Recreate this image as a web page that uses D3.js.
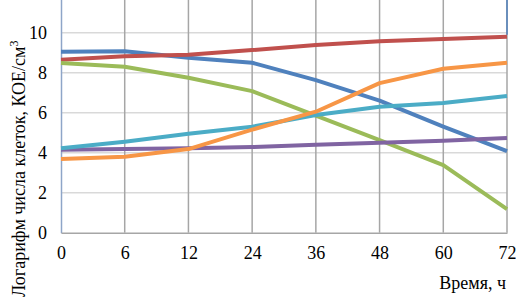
<!DOCTYPE html>
<html>
<head>
<meta charset="utf-8">
<script src="https://cdn.jsdelivr.net/npm/d3@7"></script>
<style>
    html, body {margin: 0; padding: 0; background: #fff;}
    svg {display: block;}
</style>
</head>
<body>
<svg id="chart" width="516" height="299"></svg>
<script>
const hours = ["0", "6", "12", "24", "36", "48", "60", "72"]
const yTicks = [0, 2, 4, 6, 8, 10]
const yMax = 12

const blueSeries = [9.05, 9.07, 8.75, 8.5, 7.63, 6.6, 5.3, 4.08]
const redSeries = [8.65, 8.82, 8.9, 9.13, 9.38, 9.57, 9.68, 9.8]
const greenSeries = [8.48, 8.3, 7.75, 7.08, 5.85, 4.63, 3.38, 1.18]
const purpleSeries = [4.15, 4.18, 4.22, 4.28, 4.4, 4.5, 4.6, 4.73]
const cyanSeries = [4.22, 4.55, 4.95, 5.3, 5.88, 6.3, 6.48, 6.83]
const orangeSeries = [3.68, 3.8, 4.18, 5.15, 6.05, 7.48, 8.2, 8.5]

// drawing order as in the source (later ones on top)
const series = [
    {values: blueSeries, color: "#4f81bd"},
    {values: redSeries, color: "#c0504d"},
    {values: greenSeries, color: "#9bbb59"},
    {values: purpleSeries, color: "#8064a2"},
    {values: cyanSeries, color: "#4bacc6"},
    {values: orangeSeries, color: "#f79646"},
]

const fontFam = "'Liberation Serif', 'Times New Roman', serif"

const svg = d3.select("#chart")

// plot top (value 12) sits just above the visible area
const x = d3.scalePoint().domain(hours).range([61, 507])
const y = d3.scaleLinear().domain([0, yMax]).range([232.7, -7.3])

// horizontal grid
svg.append("g")
    .selectAll("line")
    .data(yTicks.filter(d => d > 0))
    .join("line")
    .attr("x1", 61).attr("x2", 507)
    .attr("y1", d => y(d)).attr("y2", d => y(d))
    .attr("stroke", "#d9d9d9")
    .attr("stroke-width", 1.5)

// vertical grid
svg.append("g")
    .selectAll("line")
    .data(hours.slice(1))
    .join("line")
    .attr("x1", d => x(d)).attr("x2", d => x(d))
    .attr("y1", y(yMax)).attr("y2", y(0))
    .attr("stroke", "#a6a6a6")
    .attr("stroke-width", 1.5)

// blue bit of the right edge
svg.append("line")
    .attr("x1", x("72")).attr("x2", x("72"))
    .attr("y1", y(yMax)).attr("y2", y(9.9))
    .attr("stroke", "#4f81bd")
    .attr("stroke-width", 1.5)

// axes
const yAxis = svg.append("g")
    .attr("transform", `translate(${x("0")},0)`)
    .call(d3.axisLeft(y).tickValues(yTicks).tickSize(0).tickPadding(14))
yAxis.attr("font-family", fontFam).attr("font-size", 18)
yAxis.select(".domain").attr("stroke", "#8ea5c8").attr("stroke-width", 1.5)
yAxis.selectAll("text").attr("fill", "#000")

const xAxis = svg.append("g")
    .attr("transform", `translate(0,${y(0)})`)
    .call(d3.axisBottom(x).tickSize(0).tickPadding(14))
xAxis.attr("font-family", fontFam).attr("font-size", 18)
xAxis.select(".domain").attr("stroke", "#a6a6a6").attr("stroke-width", 1.5)
xAxis.selectAll("text").attr("fill", "#000")

// lines
const line = d3.line()
    .x((d, i) => x(hours[i]))
    .y(d => y(d))

svg.append("g")
    .selectAll("path")
    .data(series)
    .join("path")
    .attr("d", d => line(d.values))
    .attr("fill", "none")
    .attr("stroke", d => d.color)
    .attr("stroke-width", 4)
    .attr("stroke-linejoin", "round")

// axis titles
svg.append("text")
    .attr("x", 506)
    .attr("y", 289)
    .attr("text-anchor", "end")
    .attr("font-family", fontFam)
    .attr("font-size", 18)
    .text("Время, ч")

const yTitle = svg.append("text")
    .attr("transform", "translate(25,297) rotate(-90)")
    .attr("font-family", fontFam)
    .attr("font-size", 18)
yTitle.append("tspan").text("Логарифм числа клеток, КОЕ/см")
yTitle.append("tspan").attr("dy", -7).attr("font-size", 12).text("3")

// shrink the title a little if it would run off the top
let len = yTitle.node().getComputedTextLength()
if (len > 294) {
    let fs = 18 * 294 / len
    yTitle.attr("font-size", fs)
    yTitle.select("tspan:last-child").attr("font-size", fs * 0.67).attr("dy", -fs * 0.4)
}
</script>
</body>
</html>
